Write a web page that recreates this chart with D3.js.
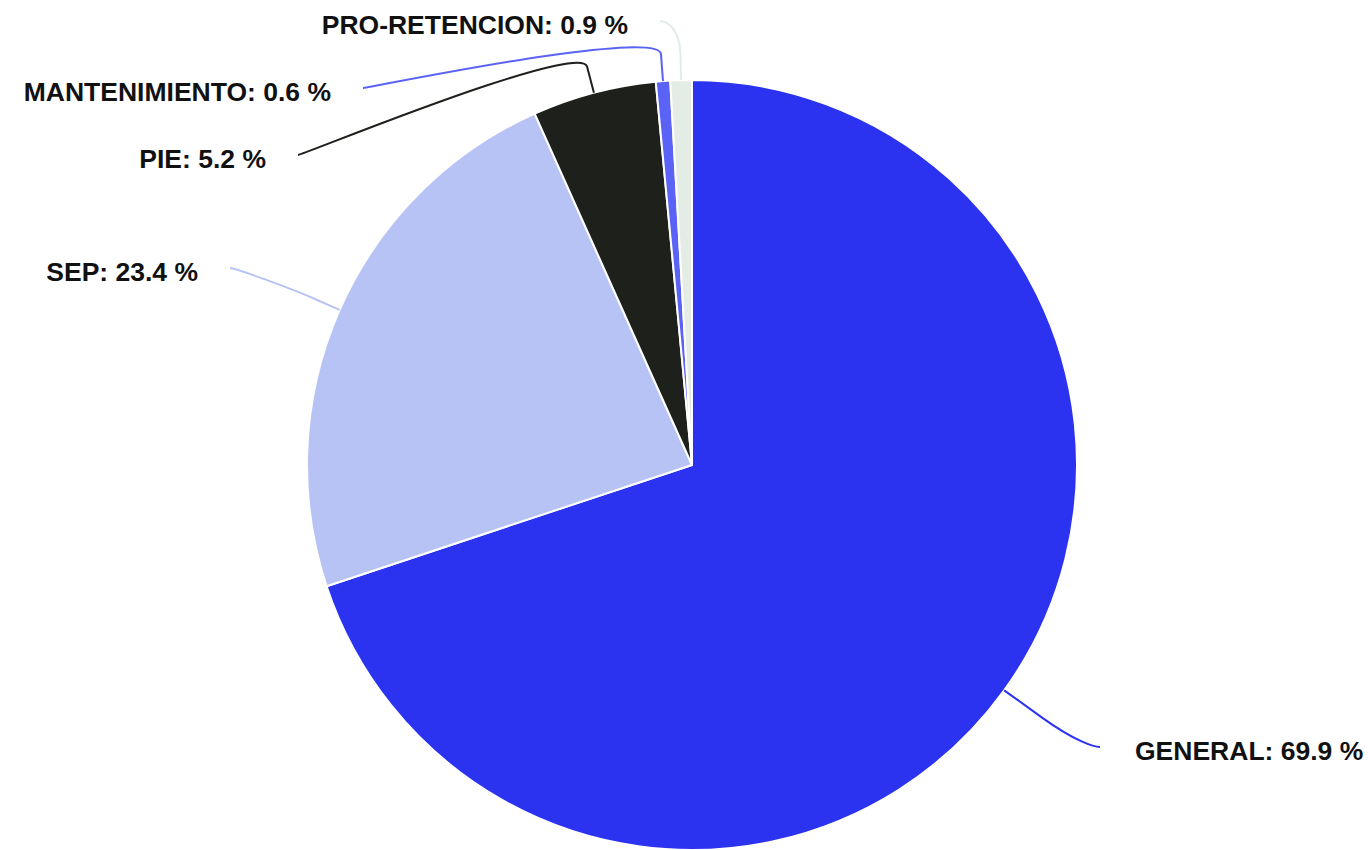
<!DOCTYPE html>
<html>
<head>
<meta charset="utf-8">
<script src="https://cdn.jsdelivr.net/npm/d3@7"></script>
<style>
  html, body { margin: 0; padding: 0; background: #ffffff; }
  svg { display: block; }
  text { font-family: "Liberation Sans", Arial, Helvetica, sans-serif; font-weight: bold; }
</style>
</head>
<body>
<svg id="chart" width="1368" height="850"></svg>
<script>
// ---- data ----
const categories = ["GENERAL", "SEP", "PIE", "MANTENIMIENTO", "PRO-RETENCION"];
const values = [69.9, 23.4, 5.2, 0.6, 0.9];
const colors = ["#2b33f0", "#b8c3f5", "#1e211b", "#5a63f5", "#e3ede6"];

// ---- layout (label anchor positions, connector break offsets) ----
const labelY = [747, 268, 155, 88, 21];
const labelX = [1100, 230, 298, 363, 660];
const breakOffset = [45, 27, 27, 27, 27];

const W = 1368, H = 850;
const cx = 692, cy = 465, R = 385;
const svg = d3.select("#chart");
const g = svg.append("g");

const pie = d3.pie().sort(null).value(d => d.value);
const data = categories.map((c, i) => ({ name: c, value: values[i], color: colors[i], i }));
const arcs = pie(data);
const arc = d3.arc().innerRadius(0).outerRadius(R);

g.append("g").attr("transform", `translate(${cx},${cy})`)
  .selectAll("path").data(arcs).join("path")
  .attr("d", arc)
  .attr("fill", d => d.data.color)
  .attr("stroke", "#ffffff")
  .attr("stroke-width", 2)
  .attr("stroke-linejoin", "round");

arcs.forEach((a, i) => {
  const offset = breakOffset[i];
  const mid = (a.startAngle + a.endAngle) / 2;
  const sx = Math.sin(mid), sy = -Math.cos(mid);
  const touch = [cx + R * sx, cy + R * sy];
  const brk = [cx + (R + offset) * sx, cy + (R + offset) * sy];
  const lx = labelX[i], ly = labelY[i];
  const right = i === 0;
  const c1 = [lx + (right ? -5 : 5), ly];
  const c2 = [2 * brk[0] - touch[0], 2 * brk[1] - touch[1]];
  const p = d3.path();
  p.moveTo(lx, ly);
  p.bezierCurveTo(c1[0], c1[1], c2[0], c2[1], brk[0], brk[1]);
  p.lineTo(touch[0], touch[1]);
  g.append("path")
    .attr("d", p.toString())
    .attr("fill", "none")
    .attr("stroke", a.data.color)
    .attr("stroke-width", 2);

  g.append("text")
    .attr("x", right ? lx + 35 : lx - 32)
    .attr("y", ly + 13)
    .attr("text-anchor", right ? "start" : "end")
    .attr("font-size", 26.5)
    .attr("fill", "#111111")
    .text(`${a.data.name}: ${d3.format(".1f")(a.data.value)} %`);
});
</script>
</body>
</html>
